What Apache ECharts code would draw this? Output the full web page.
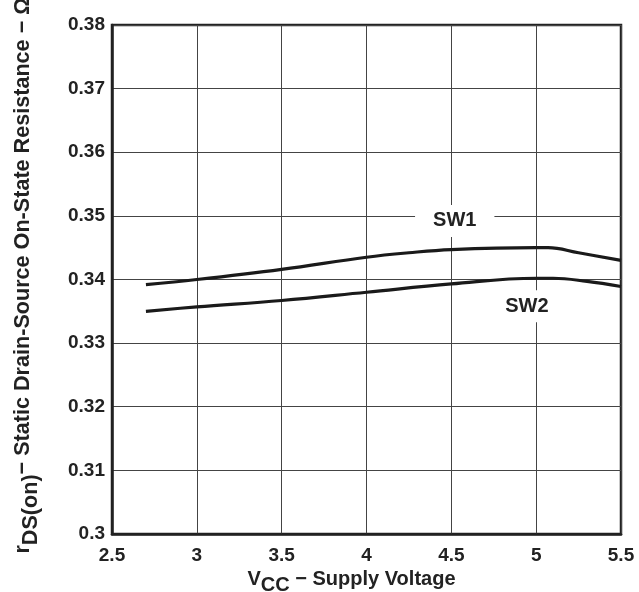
<!DOCTYPE html>
<html><head><meta charset="utf-8">
<script src="https://cdn.jsdelivr.net/npm/echarts@6/dist/echarts.min.js"></script>
<style>html,body{margin:0;padding:0;background:#fff}#c{width:639px;height:592px}</style>
</head><body><div id="c"></div>
<script>
const xTicks = [2.5, 3, 3.5, 4, 4.5, 5, 5.5];
const yTicks = [0.3, 0.31, 0.32, 0.33, 0.34, 0.35, 0.36, 0.37, 0.38];
const sw1X = [2.7, 3.0, 3.5, 4.0, 4.25, 4.5, 5.0, 5.07, 5.25, 5.5];
const sw1Y = [0.3392, 0.3400, 0.3416, 0.3435, 0.3442, 0.3447, 0.3450, 0.3450, 0.3442, 0.3430];
const sw2X = [2.7, 3.0, 3.5, 4.0, 4.5, 5.0, 5.1, 5.3, 5.5];
const sw2Y = [0.3350, 0.3357, 0.3367, 0.3380, 0.3393, 0.3402, 0.3402, 0.3397, 0.3389];
const seriesNames = ['SW1', 'SW2'];
const labelPos = [[4.52, 0.3492], [4.945, 0.3358]];

const font = '"Liberation Sans", Arial, sans-serif';
const chart = echarts.init(document.getElementById('c'));
const mk = (xs, ys) => xs.map((x, i) => [x, ys[i]]);
chart.setOption({
  animation: false,
  grid: { left: 112, right: 18, top: 25, bottom: 58, outerBoundsMode: 'none', containLabel: false,
    show: true, borderColor: '#222', borderWidth: 2.5, backgroundColor: 'transparent' },
  xAxis: {
    type: 'value', min: 2.5, max: 5.5, interval: 0.5,
    axisLine: { show: true, lineStyle: { color: '#222', width: 2.5 } },
    axisTick: { show: false },
    splitLine: { show: true, lineStyle: { color: '#444', width: 1 } },
    axisLabel: { color: '#222', fontFamily: font, fontWeight: 'bold', fontSize: 19, margin: 12, formatter: v => String(v) },
    name: '{m|V}{s|CC}{m| − Supply Voltage}', nameLocation: 'middle', nameGap: 29,
    nameTextStyle: { padding: [0, 30, 0, 0], rich: {
      m: { fontFamily: font, fontWeight: 'bold', fontSize: 20, color: '#222' },
      s: { fontFamily: font, fontWeight: 'bold', fontSize: 20, color: '#222', padding: [12, 0, 0, 0] }
    } }
  },
  yAxis: {
    type: 'value', min: 0.3, max: 0.38, interval: 0.01,
    axisLine: { show: true, lineStyle: { color: '#222', width: 2.5 } },
    axisTick: { show: false },
    splitLine: { show: true, lineStyle: { color: '#444', width: 1 } },
    axisLabel: { color: '#222', fontFamily: font, fontWeight: 'bold', fontSize: 19, margin: 7, padding: [3, 0, 0, 0], formatter: v => String(+v.toFixed(2)) },
    name: '{m|r}{s|DS(on)}{m|− Static Drain-Source On-State Resistance − Ω}', nameLocation: 'middle', nameGap: 70, nameRotate: 90,
    nameTextStyle: { padding: [0, 0, 0, 8], rich: {
      m: { fontFamily: font, fontWeight: 'bold', fontSize: 21.6, color: '#222' },
      s: { fontFamily: font, fontWeight: 'bold', fontSize: 21.6, color: '#222', padding: [16, 0, 0, 0] }
    } }
  },
  series: [mk(sw1X, sw1Y), mk(sw2X, sw2Y)].map((d, i) => ({
    type: 'line', name: seriesNames[i], data: d, smooth: 0.4, showSymbol: false,
    lineStyle: { color: '#1a1a1a', width: 3.2 },
    markPoint: {
      symbol: 'rect', symbolSize: 0,
      label: { show: true, formatter: seriesNames[i], color: '#222', fontFamily: font, fontWeight: 'bold', fontSize: 20,
        backgroundColor: '#fff', padding: [6, 18, 6, 18] },
      data: [{ coord: labelPos[i] }]
    }
  }))
});
</script></body></html>
